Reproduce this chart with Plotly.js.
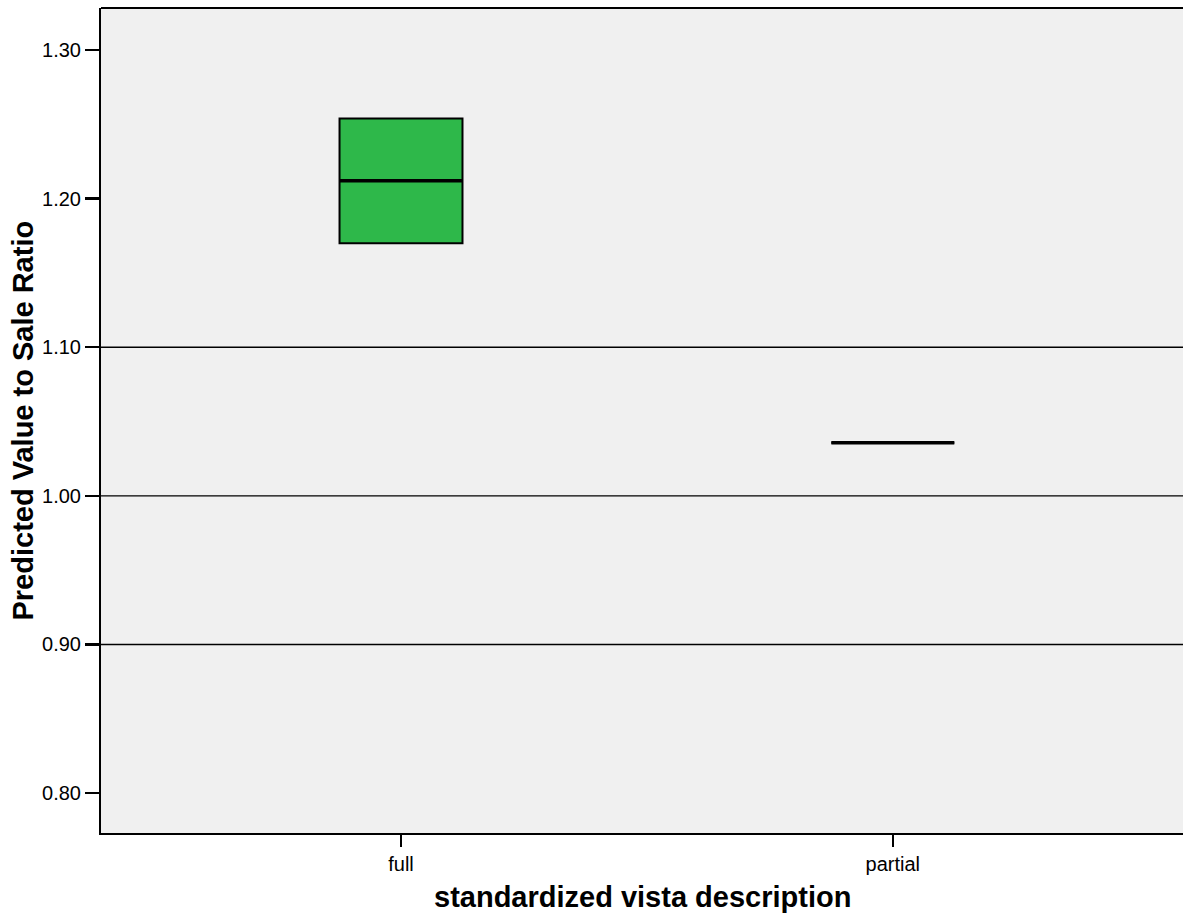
<!DOCTYPE html>
<html>
<head>
<meta charset="utf-8">
<script src="https://cdn.plot.ly/plotly-3.0.1.min.js"></script>
<style>html,body{margin:0;padding:0;background:#fff;overflow:hidden;}#chart{width:1183px;height:918px;}</style>
</head>
<body>
<div id="chart"></div>
<script>
// Data
const categories = ["full", "partial"];
const q1Values = [1.170, 1.0357];
const medianValues = [1.212, 1.0357];
const q3Values = [1.254, 1.0357];
const lowerWhisker = [1.170, 1.0357];
const upperWhisker = [1.254, 1.0357];
const referenceLines = [0.90, 1.00, 1.10];
const yTickVals = [0.80, 0.90, 1.00, 1.10, 1.20, 1.30];
const yTickText = ["0.80", "0.90", "1.00", "1.10", "1.20", "1.30"];
const xTitle = "standardized vista description";
const yTitle = "Predicted Value to Sale Ratio";

const boxTrace = {
  type: "box",
  x: categories,
  q1: q1Values,
  median: medianValues,
  q3: q3Values,
  lowerfence: lowerWhisker,
  upperfence: upperWhisker,
  fillcolor: "#2EB84A",
  line: { color: "#000000", width: 2 },
  width: 0.25,
  whiskerwidth: 0.35,
  boxpoints: false,
  hoverinfo: "skip",
  showlegend: false
};
// thick median line overlay
const medianTrace = {
  type: "box",
  x: categories,
  q1: medianValues,
  median: medianValues,
  q3: medianValues,
  lowerfence: medianValues,
  upperfence: medianValues,
  fillcolor: "rgba(0,0,0,0)",
  line: { color: "#000000", width: 3.5 },
  width: 0.25,
  whiskerwidth: 0,
  boxpoints: false,
  hoverinfo: "skip",
  showlegend: false
};

const shapes = referenceLines.map(v => ({
  type: "line", xref: "paper", yref: "y", x0: 0, x1: 1, y0: v, y1: v,
  line: { color: "#000000", width: 1.4 }, layer: "below"
}));
shapes.push({
  type: "line", xref: "paper", yref: "paper", x0: 0, x1: 1, y0: 1, y1: 1,
  line: { color: "#000000", width: 2 }
});

const layout = {
  width: 1183, height: 918,
  margin: { l: 101, r: 0, t: 8, b: 85 },
  paper_bgcolor: "#ffffff",
  plot_bgcolor: "#F0F0F0",
  font: { family: "Liberation Sans, Arial, sans-serif", color: "#000000", size: 20 },
  shapes: shapes,
  annotations: [
    { text: xTitle, xref: "paper", yref: "paper", x: 0.5, y: -0.0776,
      xanchor: "center", yanchor: "middle", showarrow: false,
      font: { size: 29, weight: "bold", color: "#000000" } },
    { text: yTitle, xref: "paper", yref: "paper", x: -0.073, y: 0.5,
      xanchor: "center", yanchor: "middle", showarrow: false, textangle: -90,
      font: { size: 29, weight: "bold", color: "#000000" } }
  ],
  xaxis: {
    type: "category",
    range: [-0.61, 1.59],
    showgrid: false, zeroline: false,
    showline: true, linecolor: "#000000", linewidth: 2,
    ticks: "outside", ticklen: 12, tickwidth: 2, tickcolor: "#000000",
    tickfont: { size: 20 }
  },
  yaxis: {
    range: [0.7731, 1.3283],
    tickvals: yTickVals, ticktext: yTickText,
    showgrid: false, zeroline: false,
    showline: true, linecolor: "#000000", linewidth: 2,
    ticks: "outside", ticklen: 14, tickwidth: 2.5, tickcolor: "#000000",
    tickfont: { size: 20 }
  }
};

Plotly.newPlot("chart", [boxTrace, medianTrace], layout, { displayModeBar: false, staticPlot: true });
</script>
</body>
</html>
